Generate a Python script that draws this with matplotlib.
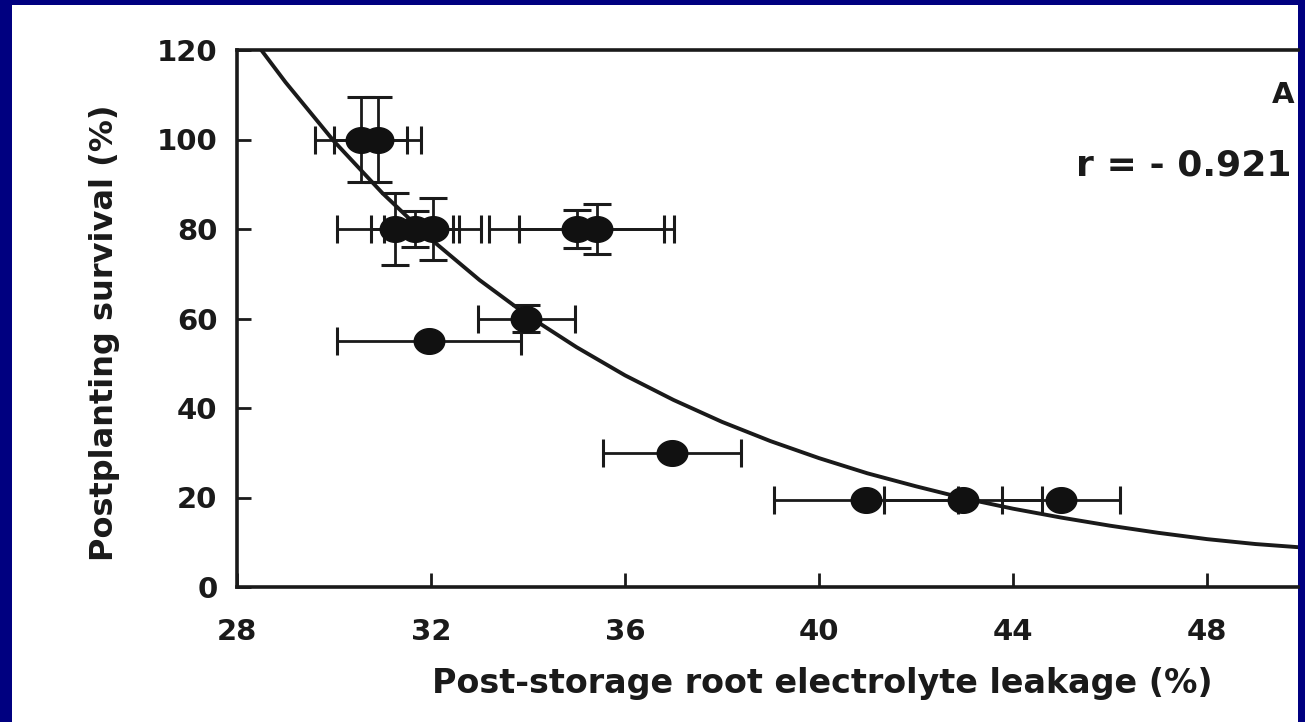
import numpy as np
import matplotlib
matplotlib.use('Agg')
import matplotlib.pyplot as plt
from matplotlib.path import Path
from matplotlib.patches import Rectangle

#%% data

# leakage (%), survival (%), x error, y error
leak = [30.55, 30.9, 31.26, 31.67, 32.04, 35.0, 35.42, 33.96, 31.96, 36.97, 40.97, 42.97, 44.99]
surv = [100, 100, 80, 80, 80, 80, 80, 60, 55, 30, 19.5, 19.5, 19.5]
leak_err = [0.95, 0.9, 1.2, 0.9, 1.0, 1.8, 1.6, 1.0, 1.9, 1.42, 1.89, 1.63, 1.22]
surv_err = [9.5, 9.5, 8.0, 4.0, 7.0, 4.2, 5.5, 3.0, 0, 0, 0, 0, 0]

# fitted curve, sampled along x
curve_x = [28.5, 29, 30, 31, 32, 33, 34, 35, 36, 37, 38, 39, 40,
           41, 42, 43, 44, 45, 46, 47, 48, 49, 50]
curve_y = [120, 112.8, 99.6, 88.0, 77.7, 68.6, 60.6, 53.6, 47.3, 41.8, 36.9, 32.6, 28.8,
           25.4, 22.5, 19.8, 17.5, 15.5, 13.7, 12.1, 10.7, 9.6, 8.8]

xticks = [28, 32, 36, 40, 44, 48]
yticks = [0, 20, 40, 60, 80, 100, 120]

#%% figure

W, H = 1305, 722
fig = plt.figure(figsize=(W / 100, H / 100), dpi=100, facecolor='#000080')

# white slide panel
fig.patches.append(Rectangle((12 / W, 0), (1298 - 12) / W, (H - 5) / H,
                             transform=fig.transFigure, facecolor='white',
                             edgecolor='none', zorder=-5))

# axes: left spine at x=237px, top at 50px, bottom at 587px, cut at 1298px
ax_left = 237 / W
ax_right = 1298 / W
ax_bottom = 1 - 587 / H
ax_top = 1 - 50 / H
ax = fig.add_axes([ax_left, ax_bottom, ax_right - ax_left, ax_top - ax_bottom])
ax.set_facecolor('none')
ax.set_zorder(2)

px_per_unit = 48.5
ax.set_xlim(28, 28 + (1298 - 237) / px_per_unit)
ax.set_ylim(0, 120)

# slightly flattened ellipse marker
t = np.linspace(0, 2 * np.pi, 60)
ell = Path(np.column_stack([np.cos(t), 0.84 * np.sin(t)]))

ax.plot(curve_x, curve_y, color='#1a1a1a', lw=2.8, zorder=2)

ax.errorbar(leak, surv, xerr=leak_err, yerr=surv_err, fmt='none',
            ecolor='#1a1a1a', elinewidth=2.0, capsize=10, capthick=2.2, zorder=3)
ax.plot(leak, surv, linestyle='none', marker=ell, markersize=22,
        color='#111111', zorder=4)

for side in ['left', 'bottom', 'top']:
    ax.spines[side].set_linewidth(2.6)
    ax.spines[side].set_color('#1a1a1a')
ax.spines['right'].set_visible(False)

ax.set_xticks(xticks)
ax.set_yticks(yticks)
ax.tick_params(direction='in', length=10, width=2, colors='#1a1a1a',
               labelsize=21)
ax.tick_params(axis='x', pad=22)
ax.tick_params(axis='y', pad=14)
ax.tick_params(top=False, right=False)
for lab in ax.get_xticklabels() + ax.get_yticklabels():
    lab.set_fontweight('bold')
    lab.set_color('#1a1a1a')

fig.text(822 / W, 1 - 683 / H, 'Post-storage root electrolyte leakage (%)',
         ha='center', va='center', fontsize=24, fontweight='bold', color='#1a1a1a')
fig.text(105 / W, 1 - 333 / H, 'Postplanting survival (%)', rotation=90,
         ha='center', va='center', fontsize=23, fontweight='bold', color='#1a1a1a')

fig.text(1294 / W, 1 - 95 / H, 'A', ha='right', va='center',
         fontsize=21, fontweight='bold', color='#1a1a1a')
fig.text(1292 / W, 1 - 165 / H, 'r = - 0.921', ha='right', va='center',
         fontsize=26, fontweight='bold', color='#1a1a1a')

fig.savefig('out.png', dpi=100, facecolor=fig.get_facecolor())
